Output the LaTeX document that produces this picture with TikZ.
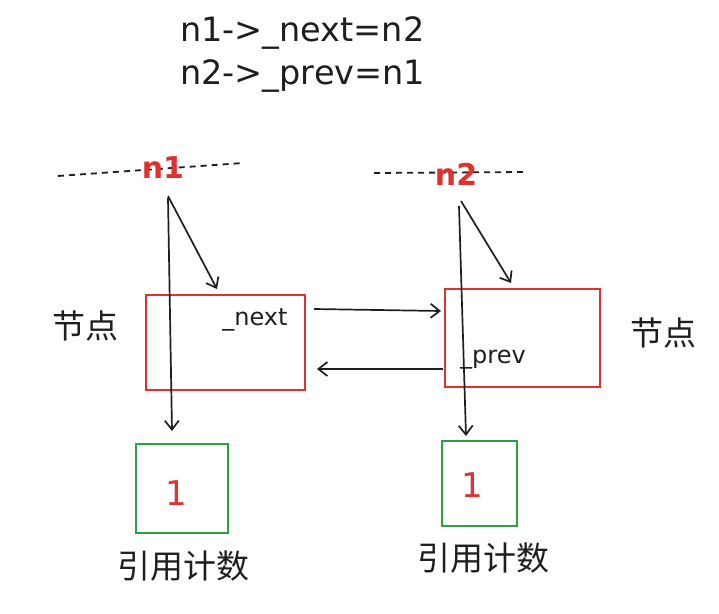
\documentclass[tikz,border=0pt]{standalone}
\usepackage{fontspec}
\setmainfont{DejaVu Sans}
\newfontfamily\cjk{Noto Sans CJK SC}
\usetikzlibrary{arrows.meta}
\definecolor{ink}{HTML}{1E1E1E}
\definecolor{xred}{HTML}{E03131}
\definecolor{xgreen}{HTML}{2F9E44}
\tikzset{
  redbox/.style={draw=xred, line width=2pt, inner sep=0pt},
  greenbox/.style={draw=xgreen, line width=2pt, inner sep=0pt},
  conn/.style={draw=ink, line width=1.7pt, -{Straight Barb[length=9pt,width=14pt,line width=1.7pt]}},
  guide/.style={draw=ink, line width=1.8pt, dash pattern=on 6pt off 5pt},
  codetxt/.style={font=\fontsize{33.5}{36}\selectfont, text=ink},
  fieldtxt/.style={font=\fontsize{24}{26}\selectfont, text=ink},
  rname/.style={font=\fontsize{30}{32}\selectfont\bfseries, text=xred},
  cntxt/.style={font=\fontsize{34}{36}\selectfont, text=xred},
  cnlabel/.style={font=\cjk\fontsize{33}{36}\selectfont, text=ink},
}
\begin{document}
\begin{tikzpicture}[x=1pt,y=-1pt]
\useasboundingbox (0,0) rectangle (719,613);
% code text
\node[codetxt, anchor=west, inner sep=0pt] (l1) at (180,33) {n1->\_next=n2};
\node[codetxt, anchor=west, inner sep=0pt] (l2) at (180,76) {n2->\_prev=n1};
% dashed guides and names
\coordinate (d1a) at (58,176);
\coordinate (d1b) at (243,163);
\draw[guide] (d1a) -- (d1b);
\node[rname] (n1) at (163,168) {n1};
\coordinate (d2a) at (374,173);
\coordinate (d2b) at (525,172);
\draw[guide] (d2a) -- (d2b);
\node[rname] (n2) at (456,174) {n2};
% node boxes
\node[redbox, minimum width=159pt, minimum height=95pt] (b1) at (225.5,342.5) {};
\node[redbox, minimum width=155pt, minimum height=98pt] (b2) at (522.5,338) {};
\node[fieldtxt] (next) at (255,320) {\_next};
\node[fieldtxt] (prev) at (493,360) {\_prev};
\node[cnlabel] (j1) at (85,326) {节点};
\node[cnlabel] (j2) at (663,333) {节点};
% counters
\node[greenbox, minimum width=92pt, minimum height=89pt] (c1) at (182,488.5) {};
\node[greenbox, minimum width=75pt, minimum height=85pt] (c2) at (479.5,483.5) {};
\node[cntxt] (v1) at (176,493) {1};
\node[cntxt] (v2) at (472,485) {1};
\node[cnlabel] (r1) at (183,566) {引用计数};
\node[cnlabel] (r2) at (483,558) {引用计数};
% arrows
\coordinate (s1) at (168,196);
\coordinate (s1b) at (168,198);
\coordinate (t1) at (217,289);
\coordinate (u1) at (172,431);
\draw[conn] (s1) -- (t1);
\draw[conn] (s1b) -- (u1);
\coordinate (s2) at (461,201);
\coordinate (s2b) at (459,206);
\coordinate (t2) at (511,283);
\coordinate (u2) at (466,436);
\draw[conn] (s2) -- (t2);
\draw[conn] (s2b) -- (u2);
\coordinate (a1) at (314,309);
\coordinate (a2) at (441,311);
\draw[conn] (a1) -- (a2);
\coordinate (p1) at (443,369);
\coordinate (p2) at (317,369);
\draw[conn] (p1) -- (p2);
\end{tikzpicture}
\end{document}
